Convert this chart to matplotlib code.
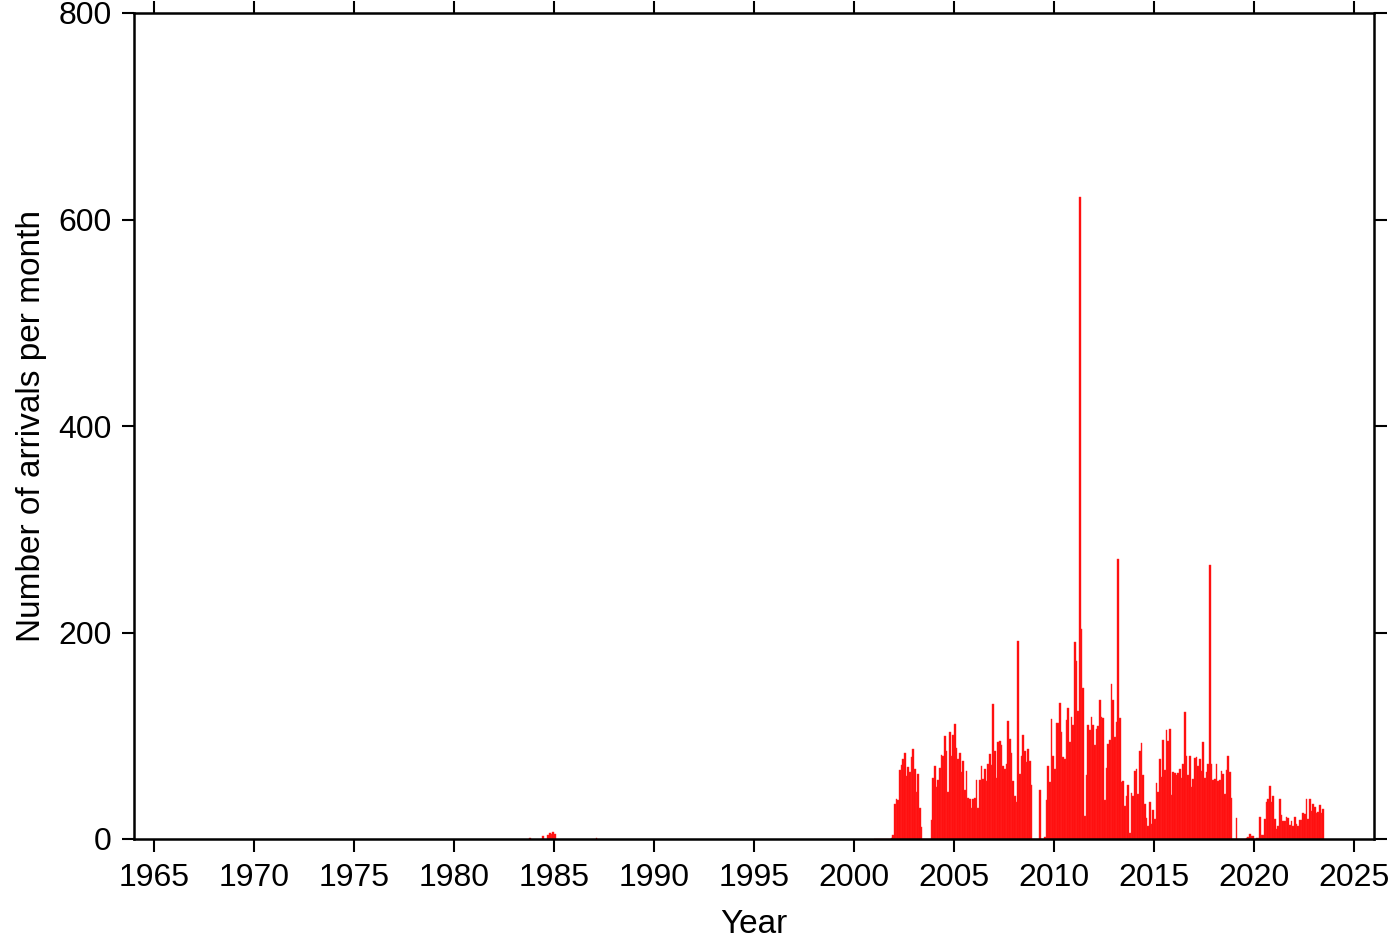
import numpy as np
import matplotlib
matplotlib.use("Agg")
import matplotlib.pyplot as plt

plt.rcParams["font.family"] = ["Liberation Sans", "DejaVu Sans"]

# isolated early months (year, month, count)
early_months = [(1983, 10, 1), (1984, 6, 3), (1984, 9, 4), (1984, 10, 6),
                (1984, 11, 5), (1984, 12, 7), (1985, 1, 5), (1987, 2, 1)]

# monthly counts, Jan..Dec
counts_2001 = [0, 0, 0, 0, 0, 0, 0, 0, 0, 0, 1, 4]
counts_2002 = [34, 39, 38, 67, 72, 77, 83, 61, 70, 65, 79, 87]
counts_2003 = [68, 46, 63, 30, 12, 0, 0, 0, 0, 0, 18, 59]
counts_2004 = [71, 50, 57, 69, 81, 80, 100, 85, 46, 104, 80, 101]
counts_2005 = [111, 88, 77, 83, 65, 76, 47, 66, 40, 39, 30, 39]
counts_2006 = [40, 57, 30, 57, 71, 58, 68, 56, 73, 82, 72, 131]
counts_2007 = [85, 59, 94, 95, 91, 71, 68, 73, 114, 97, 83, 56]
counts_2008 = [42, 36, 192, 63, 80, 101, 85, 75, 87, 76, 52, 0]
counts_2009 = [0, 0, 0, 47, 0, 0, 2, 38, 71, 55, 116, 80]
counts_2010 = [68, 112, 112, 132, 104, 79, 77, 115, 127, 94, 118, 110]
counts_2011 = [191, 172, 124, 622, 203, 146, 22, 62, 110, 106, 118, 110]
counts_2012 = [91, 107, 109, 135, 118, 117, 38, 69, 92, 96, 150, 135]
counts_2013 = [99, 113, 271, 117, 55, 56, 32, 42, 52, 6, 45, 42]
counts_2014 = [66, 68, 44, 85, 93, 62, 34, 20, 13, 36, 15, 28]
counts_2015 = [19, 54, 46, 77, 60, 96, 67, 106, 95, 107, 43, 65]
counts_2016 = [64, 62, 64, 68, 59, 73, 123, 80, 62, 80, 50, 58]
counts_2017 = [78, 79, 71, 77, 66, 94, 59, 65, 73, 265, 73, 57]
counts_2018 = [58, 73, 56, 57, 66, 63, 44, 67, 80, 65, 40, 0]
counts_2019 = [0, 20, 0, 0, 0, 0, 0, 1, 2, 5, 3, 3]
counts_2020 = [0, 1, 1, 21, 4, 4, 19, 36, 39, 51, 36, 42]
counts_2021 = [19, 10, 13, 39, 23, 17, 17, 21, 20, 14, 17, 13]
counts_2022 = [21, 15, 13, 18, 18, 25, 24, 39, 19, 39, 27, 34]
counts_2023 = [31, 25, 26, 33, 25, 29]

yearly = {
    2001: counts_2001, 2002: counts_2002, 2003: counts_2003, 2004: counts_2004,
    2005: counts_2005, 2006: counts_2006, 2007: counts_2007, 2008: counts_2008,
    2009: counts_2009, 2010: counts_2010, 2011: counts_2011, 2012: counts_2012,
    2013: counts_2013, 2014: counts_2014, 2015: counts_2015, 2016: counts_2016,
    2017: counts_2017, 2018: counts_2018, 2019: counts_2019, 2020: counts_2020,
    2021: counts_2021, 2022: counts_2022, 2023: counts_2023,
}

t = [y + (m - 1) / 12 for y, m, c in early_months]
n = [c for y, m, c in early_months]
for year, vals in yearly.items():
    for i, c in enumerate(vals):
        t.append(year + i / 12)
        n.append(c)
t = np.array(t)
n = np.array(n)

fig = plt.figure(figsize=(14, 9.42), dpi=100)
ax = fig.add_axes((134 / 1400, 1 - 839 / 942, 1240 / 1400, 826 / 942))

ax.bar(t, n, width=0.9 / 12, align="edge", color="#ff0a0a",
       edgecolor="#ff2a2a", linewidth=0.3)

ax.set_xlim(1964, 2026)
ax.set_ylim(0, 800)
ax.set_xticks(np.arange(1965, 2026, 5))
ax.set_yticks(np.arange(0, 801, 200))

for s in ax.spines.values():
    s.set_linewidth(1.8)
ax.tick_params(direction="out", length=9, width=1.5, labelsize=23,
               top=True, right=True, pad=7)
ax.tick_params(axis="x", pad=8)

ax.set_xlabel("Year", fontsize=24, labelpad=12)
ax.set_ylabel("Number of arrivals per month", fontsize=24, labelpad=8)

fig.savefig("out.png", dpi=100)
